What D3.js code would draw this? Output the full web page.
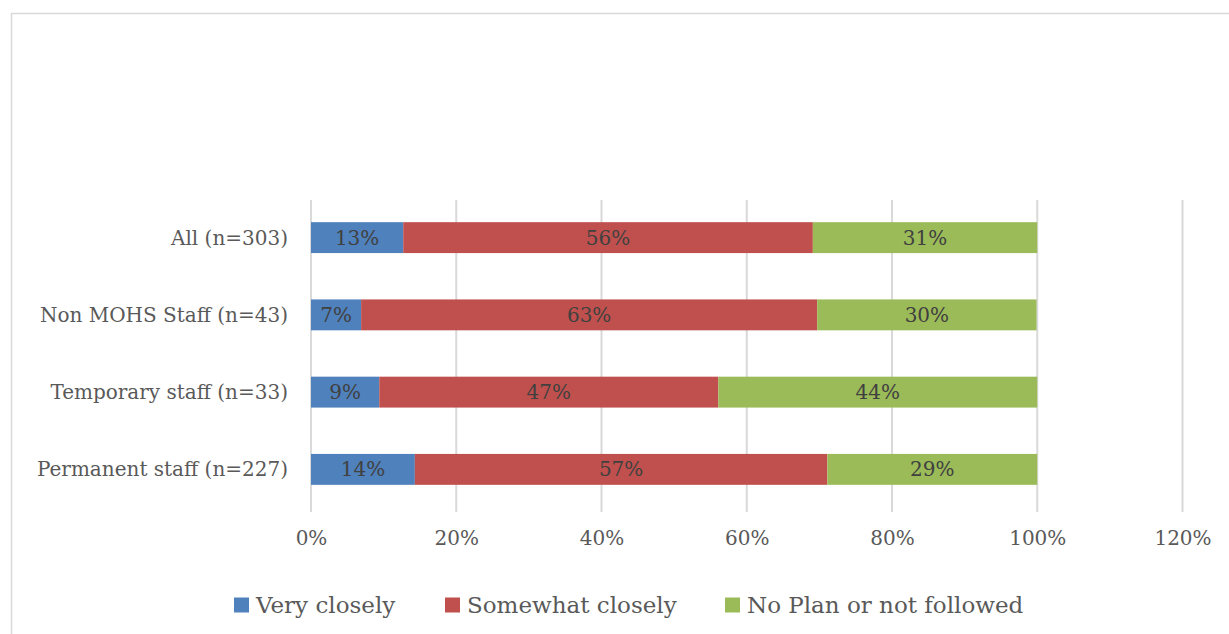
<!DOCTYPE html>
<html>
<head>
<meta charset="utf-8">
<script src="https://cdn.jsdelivr.net/npm/d3@7"></script>
<style>
  html, body { margin: 0; padding: 0; background: #fff; }
  svg { display: block; }
</style>
</head>
<body>
<svg id="chart" width="1229" height="634"></svg>
<script>
// Categories, top to bottom
const categories = ["All (n=303)", "Non MOHS Staff (n=43)", "Temporary staff (n=33)", "Permanent staff (n=227)"];
// Series (share of respondents per group)
const seriesNames = ["Very closely", "Somewhat closely", "No Plan or not followed"];
const veryClosely     = [0.127, 0.069, 0.094, 0.143];
const somewhatClosely = [0.564, 0.628, 0.467, 0.568];
const noPlan          = [0.309, 0.302, 0.439, 0.289];
const colors = ["#4f81bd", "#c0504d", "#9bbb59"];
const xTicks = [0, 0.2, 0.4, 0.6, 0.8, 1.0, 1.2];

const fontFamily = "'DejaVu Serif', serif";

const svg = d3.select("#chart");

// chart frame
svg.append("rect")
  .attr("x", 11.5).attr("y", 13.5)
  .attr("width", 1240).attr("height", 640)
  .attr("fill", "#fff").attr("stroke", "#d9d9d9").attr("stroke-width", 1.5);

const plot = { left: 311, right: 1182.5, top: 200, bottom: 512 };

const x = d3.scaleLinear().domain([0, 1.2]).range([plot.left, plot.right]);
const y = d3.scaleBand().domain(categories).range([199, 508]).paddingInner(0.6).paddingOuter(0.3);

// stacked rows
const rows = categories.map((c, i) => ({ cat: c, v0: veryClosely[i], v1: somewhatClosely[i], v2: noPlan[i] }));
const stack = d3.stack().keys(["v0", "v1", "v2"])(rows);

// gridlines
svg.append("g")
  .selectAll("line")
  .data(xTicks)
  .join("line")
  .attr("x1", d => x(d)).attr("x2", d => x(d))
  .attr("y1", plot.top).attr("y2", plot.bottom)
  .attr("stroke", "#d9d9d9").attr("stroke-width", 2);

// x axis labels
const xAxis = d3.axisBottom(x).tickValues(xTicks).tickFormat(d3.format(".0%")).tickSize(0).tickPadding(0);
const gx = svg.append("g").attr("transform", `translate(0,${plot.bottom})`).call(xAxis);
gx.select(".domain").remove();
gx.selectAll("text")
  .attr("dy", 0).attr("y", 33)
  .attr("fill", "#595959")
  .style("font-family", fontFamily).style("font-size", "20px");

// y axis labels
const yAxis = d3.axisLeft(y).tickSize(0).tickPadding(0);
const gy = svg.append("g").attr("transform", `translate(${plot.left - 23},0)`).call(yAxis);
gy.select(".domain").remove();
gy.selectAll("text")
  .attr("fill", "#595959")
  .attr("dy", "0.35em")
  .style("font-family", fontFamily).style("font-size", "20px");

// bars
const layers = svg.append("g").selectAll("g")
  .data(stack)
  .join("g")
  .attr("fill", (d, i) => colors[i]);

layers.selectAll("rect")
  .data(d => d)
  .join("rect")
  .attr("x", d => x(d[0]))
  .attr("width", d => x(d[1]) - x(d[0]))
  .attr("y", d => y(d.data.cat))
  .attr("height", y.bandwidth());

// value labels
const fmt = d3.format(".0%");
layers.selectAll("text")
  .data(d => d.map(p => ({ p, key: d.key })))
  .join("text")
  .attr("x", d => (x(d.p[0]) + x(d.p[1])) / 2)
  .attr("y", d => y(d.p.data.cat) + y.bandwidth() / 2)
  .attr("dy", "0.35em")
  .attr("text-anchor", "middle")
  .attr("fill", "#404040")
  .style("font-family", fontFamily).style("font-size", "20px")
  .text(d => fmt(d.p.data[d.key]));

// legend
const legendY = 605;
const legendX = [234, 445, 725];
const lg = svg.append("g").selectAll("g")
  .data(seriesNames)
  .join("g")
  .attr("transform", (d, i) => `translate(${legendX[i]},${legendY})`);
lg.append("rect")
  .attr("x", 0).attr("y", -7.5).attr("width", 15).attr("height", 15)
  .attr("fill", (d, i) => colors[i]);
lg.append("text")
  .attr("x", 22).attr("dy", "0.35em")
  .attr("fill", "#595959")
  .style("font-family", fontFamily).style("font-size", "23px")
  .text(d => d);
</script>
</body>
</html>
